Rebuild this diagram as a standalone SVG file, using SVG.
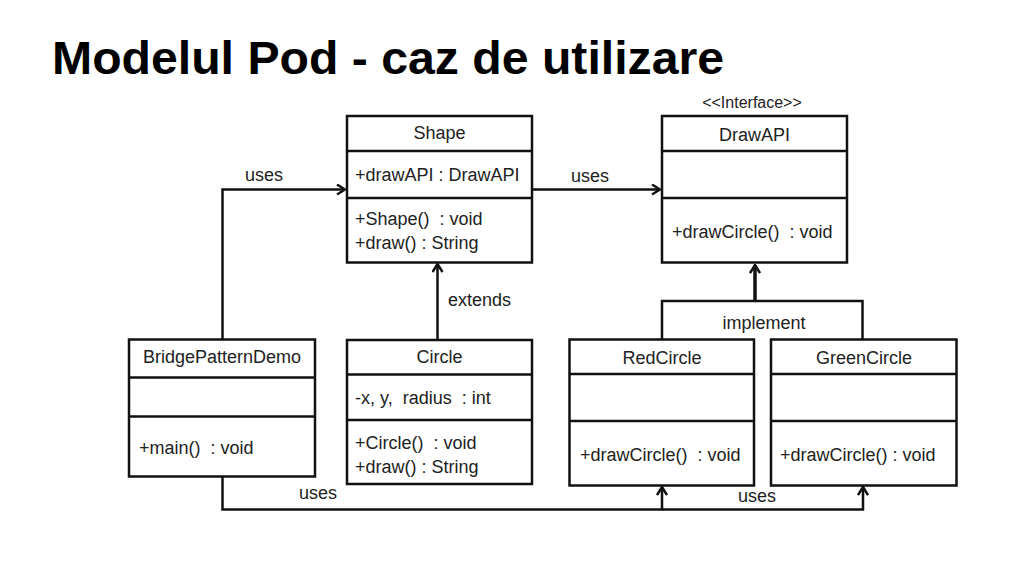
<svg xmlns="http://www.w3.org/2000/svg" width="1028" height="576" viewBox="0 0 1028 576">
<defs>
<style>
.box{fill:#fff;stroke:#111;stroke-width:2.5}
.div{stroke:#111;stroke-width:2.5}
.t{font-family:"Liberation Sans",Arial,sans-serif;font-size:18px;fill:#222;white-space:pre}
.c{text-anchor:middle}
.ln{fill:none;stroke:#111;stroke-width:2.5}
.thick{stroke-width:3.5}
.title{font-family:"Liberation Sans",Arial,sans-serif;font-weight:bold;font-size:46px;fill:#000}
</style>
<marker id="ah" viewBox="0 0 10 12" refX="9" refY="6" markerWidth="10" markerHeight="12" markerUnits="userSpaceOnUse" orient="auto">
<path d="M1,1 L9,6 L1,11" fill="none" stroke="#111" stroke-width="2.5"/>
</marker>
</defs>
<rect width="1028" height="576" fill="#fff"/>
<text class="title" x="52" y="74" textLength="672" lengthAdjust="spacingAndGlyphs">Modelul Pod - caz de utilizare</text>

<g id="connectors">
<path class="ln" d="M222.5,339 V189.5 H345" marker-end="url(#ah)"/>
<path class="ln" d="M532,189.5 H660" marker-end="url(#ah)"/>
<path class="ln" d="M437.5,340 V264" marker-end="url(#ah)"/>
<path class="ln" d="M662,339 V301 H862.5 V339"/>
<path class="ln thick" d="M755,301 V265" marker-end="url(#ah)"/>
<path class="ln" d="M222.5,477 V509.5 H662 V487" marker-end="url(#ah)"/>
<path class="ln" d="M662,509.5 H863 V487" marker-end="url(#ah)"/>
<text class="t c" x="264" y="181">uses</text>
<text class="t c" x="590" y="182">uses</text>
<text class="t" x="448" y="306">extends</text>
<text class="t c" x="764" y="329">implement</text>
<text class="t c" x="318" y="499">uses</text>
<text class="t c" x="757" y="502">uses</text>
</g>

<g id="Shape">
<rect class="box" x="347" y="116" width="185" height="146.5"/>
<line class="div" x1="347" y1="151" x2="532" y2="151"/>
<line class="div" x1="347" y1="198" x2="532" y2="198"/>
<text class="t c" x="439.5" y="139">Shape</text>
<text class="t" x="355" y="181">+drawAPI : DrawAPI</text>
<text class="t" x="355" y="225" xml:space="preserve">+Shape()  : void</text>
<text class="t" x="355" y="249">+draw() : String</text>
</g>

<g id="DrawAPI">
<text class="t c" x="752" y="108" style="font-size:16px">&lt;&lt;Interface&gt;&gt;</text>
<rect class="box" x="662" y="116" width="185" height="146.5"/>
<line class="div" x1="662" y1="151" x2="847" y2="151"/>
<line class="div" x1="662" y1="198" x2="847" y2="198"/>
<text class="t c" x="754.5" y="141">DrawAPI</text>
<text class="t" x="672" y="238" xml:space="preserve">+drawCircle()  : void</text>
</g>

<g id="BridgePatternDemo">
<rect class="box" x="129" y="339.5" width="186" height="137"/>
<line class="div" x1="129" y1="377.5" x2="315" y2="377.5"/>
<line class="div" x1="129" y1="416.5" x2="315" y2="416.5"/>
<text class="t c" x="222" y="363">BridgePatternDemo</text>
<text class="t" x="139" y="454" xml:space="preserve">+main()  : void</text>
</g>

<g id="Circle">
<rect class="box" x="347" y="340" width="185" height="144"/>
<line class="div" x1="347" y1="374.5" x2="532" y2="374.5"/>
<line class="div" x1="347" y1="420" x2="532" y2="420"/>
<text class="t c" x="439.5" y="363">Circle</text>
<text class="t" x="355" y="404" xml:space="preserve">-x, y,  radius  : int</text>
<text class="t" x="355" y="449" xml:space="preserve">+Circle()  : void</text>
<text class="t" x="355" y="473">+draw() : String</text>
</g>

<g id="RedCircle">
<rect class="box" x="569.5" y="339.5" width="184.5" height="146"/>
<line class="div" x1="569.5" y1="374" x2="754" y2="374"/>
<line class="div" x1="569.5" y1="421" x2="754" y2="421"/>
<text class="t c" x="662" y="364">RedCircle</text>
<text class="t" x="580" y="461" xml:space="preserve">+drawCircle()  : void</text>
</g>

<g id="GreenCircle">
<rect class="box" x="771" y="339.5" width="185.5" height="146"/>
<line class="div" x1="771" y1="374" x2="956.5" y2="374"/>
<line class="div" x1="771" y1="421" x2="956.5" y2="421"/>
<text class="t c" x="864" y="364">GreenCircle</text>
<text class="t" x="780" y="461">+drawCircle() : void</text>
</g>
</svg>
